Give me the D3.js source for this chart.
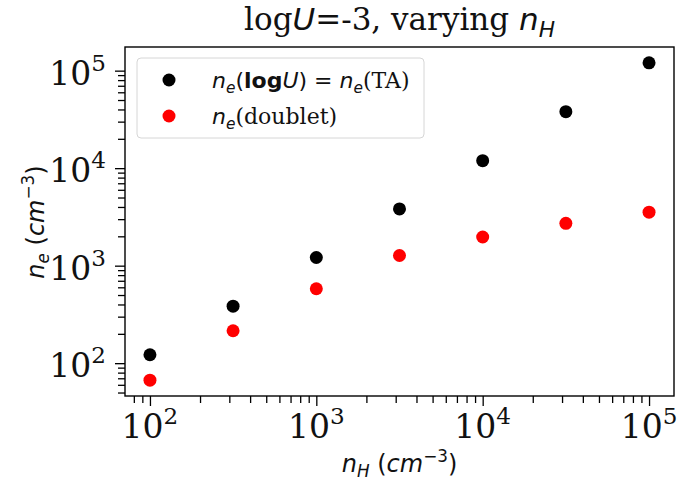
<!DOCTYPE html>
<html>
<head>
<meta charset="utf-8">
<script src="https://cdn.jsdelivr.net/npm/d3@7"></script>
<style>
  html, body { margin: 0; padding: 0; background: #fff; }
  svg { display: block; }
</style>
</head>
<body>
<svg id="chart" width="681" height="483"></svg>
<script>
// ---- data ----
const nH = [100, 316, 1000, 3162, 10000, 31623, 100000];
const neTA = [122, 384, 1213, 3819, 11930, 38000, 120200];
const neDoublet = [67, 215, 580, 1271, 1968, 2716, 3540];
const majorTicks = [1e2, 1e3, 1e4, 1e5];
const tickExponents = ["2", "3", "4", "5"];

// ---- layout ----
const W = 681, H = 483;
const M = { left: 125, right: 7, top: 47, bottom: 87 };
const SERIF = "'DejaVu Serif', serif";
const SANS = "'DejaVu Sans', sans-serif";

const svg = d3.select("#chart");

// matplotlib-style 5% log margins
function logPad(vals) {
  const lo = Math.log10(d3.min(vals)), hi = Math.log10(d3.max(vals));
  const p = 0.05 * (hi - lo);
  return [Math.pow(10, lo - p), Math.pow(10, hi + p)];
}

const x = d3.scaleLog().domain(logPad(nH)).range([M.left, W - M.right]);
const y = d3.scaleLog().domain(logPad(neTA.concat(neDoublet))).range([H - M.bottom, M.top]);

function minorTicks(scale) {
  const [a, b] = scale.domain();
  const out = [];
  for (let e = Math.floor(Math.log10(a)); e <= Math.ceil(Math.log10(b)); e++) {
    for (let m = 2; m <= 9; m++) {
      const v = m * Math.pow(10, e);
      if (v >= a && v <= b) out.push(v);
    }
  }
  return out;
}

// rich text helper: parts = [text, font, kind]
function rich(textSel, parts, size) {
  let off = 0;
  parts.forEach(([t, f, kind]) => {
    const ts = textSel.append("tspan").text(t);
    let target = 0, fs = size;
    if (kind === "sub") { target = 0.22 * size; fs = 0.7 * size; }
    if (kind === "sup") { target = -0.42 * size; fs = 0.7 * size; }
    ts.attr("dy", target - off);
    off = target;
    ts.attr("font-size", fs);
    if (f === "serif") ts.attr("font-family", SERIF);
    else if (f === "it") ts.attr("font-family", SANS).attr("font-style", "italic");
    else if (f === "bf") ts.attr("font-family", SANS).attr("font-weight", "bold");
    else ts.attr("font-family", SANS);
  });
  return textSel;
}

// ---- axes ticks ----
const xAxisMajor = d3.axisBottom(x).tickValues(majorTicks).tickSize(10).tickFormat("");
const xAxisMinor = d3.axisBottom(x).tickValues(minorTicks(x)).tickSize(7).tickFormat("");
const yAxisMajor = d3.axisLeft(y).tickValues(majorTicks).tickSize(10).tickFormat("");
const yAxisMinor = d3.axisLeft(y).tickValues(minorTicks(y)).tickSize(7).tickFormat("");

const gx = svg.append("g").attr("transform", `translate(0,${H - M.bottom})`);
gx.append("g").call(xAxisMinor);
gx.append("g").call(xAxisMajor);
const gy = svg.append("g").attr("transform", `translate(${M.left},0)`);
gy.append("g").call(yAxisMinor);
gy.append("g").call(yAxisMajor);
svg.selectAll(".domain").remove();
svg.selectAll(".tick line").attr("stroke", "#000").attr("stroke-width", 1.3);

// tick labels
const TICK_FS = 33;
majorTicks.forEach((v, i) => {
  const tx = svg.append("text")
    .attr("x", x(v)).attr("y", 438)
    .attr("text-anchor", "middle").attr("fill", "#111");
  rich(tx, [["10", "serif", ""], [tickExponents[i], "serif", "sup"]], TICK_FS);
  const ty = svg.append("text")
    .attr("x", M.left - 19).attr("y", y(v) + 14)
    .attr("text-anchor", "end").attr("fill", "#111");
  rich(ty, [["10", "serif", ""], [tickExponents[i], "serif", "sup"]], TICK_FS);
});

// frame
svg.append("rect")
  .attr("x", M.left).attr("y", M.top)
  .attr("width", W - M.left - M.right).attr("height", H - M.top - M.bottom)
  .attr("fill", "none").attr("stroke", "#000").attr("stroke-width", 1.4);

// ---- points ----
const R = 6.5;
svg.append("g").selectAll("circle").data(nH).join("circle")
  .attr("cx", d => x(d)).attr("cy", (d, i) => y(neTA[i])).attr("r", R).attr("fill", "#000");
svg.append("g").selectAll("circle").data(nH).join("circle")
  .attr("cx", d => x(d)).attr("cy", (d, i) => y(neDoublet[i])).attr("r", R).attr("fill", "#ff0000");

// ---- legend ----
const lg = svg.append("g");
lg.append("rect").attr("x", 137).attr("y", 58).attr("width", 287).attr("height", 80)
  .attr("rx", 4).attr("fill", "#fff").attr("fill-opacity", 0.8)
  .attr("stroke", "#d6d6d6").attr("stroke-width", 1);
lg.append("circle").attr("cx", 169).attr("cy", 80).attr("r", R).attr("fill", "#000");
lg.append("circle").attr("cx", 169).attr("cy", 116).attr("r", R).attr("fill", "#ff0000");
const LFS = 22;
rich(lg.append("text").attr("x", 212).attr("y", 88).attr("fill", "#111"),
  [["n", "it", ""], ["e", "it", "sub"], ["(", "sans", ""], ["log", "bf", ""], ["U", "it", ""],
   [") = ", "sans", ""], ["n", "it", ""], ["e", "it", "sub"], ["(TA)", "serif", ""]], LFS);
rich(lg.append("text").attr("x", 212).attr("y", 124).attr("fill", "#111"),
  [["n", "it", ""], ["e", "it", "sub"], ["(doublet)", "serif", ""]], LFS);

// ---- title ----
rich(svg.append("text").attr("x", (M.left + W - M.right) / 2).attr("y", 30)
  .attr("text-anchor", "middle").attr("fill", "#111"),
  [["log", "serif", ""], ["U", "it", ""], ["=-3, varying ", "serif", ""], ["n", "it", ""], ["H", "it", "sub"]], 31);

// ---- axis labels ----
rich(svg.append("text").attr("x", (M.left + W - M.right) / 2).attr("y", 472)
  .attr("text-anchor", "middle").attr("fill", "#111"),
  [["n", "it", ""], ["H", "it", "sub"], [" (", "sans", ""], ["cm", "it", ""], ["\u22123", "sans", "sup"], [")", "sans", ""]], 24);
rich(svg.append("text").attr("transform", "translate(44,222) rotate(-90)")
  .attr("text-anchor", "middle").attr("fill", "#111"),
  [["n", "it", ""], ["e", "it", "sub"], [" (", "sans", ""], ["cm", "it", ""], ["\u22123", "sans", "sup"], [")", "sans", ""]], 24);
</script>
</body>
</html>
